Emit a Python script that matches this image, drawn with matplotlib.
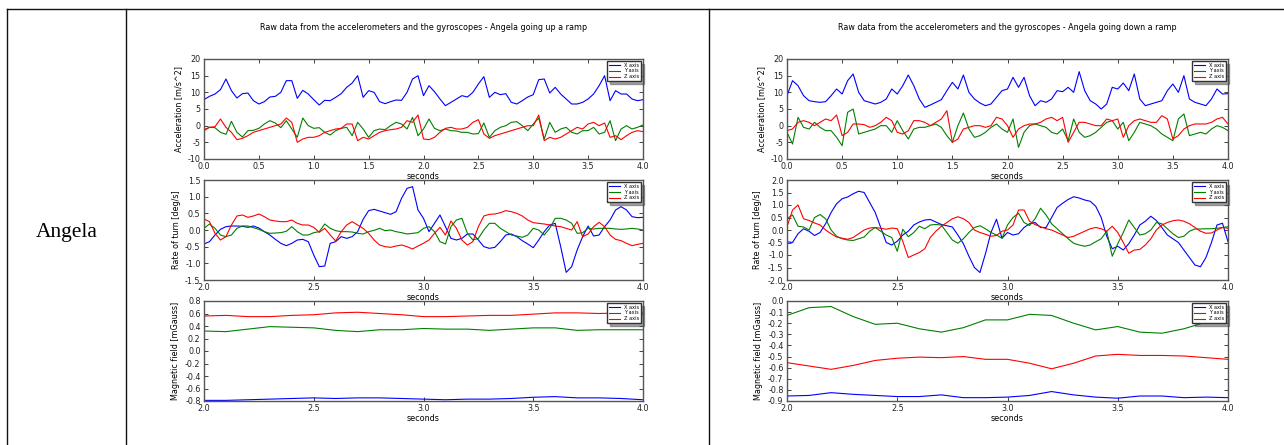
import numpy as np
import matplotlib
matplotlib.use("Agg")
import matplotlib.pyplot as plt
from matplotlib.lines import Line2D
from matplotlib.ticker import FormatStrFormatter

W, H = 1284, 445

person = "Angela"
titles = ["Raw data from the accelerometers and the gyroscopes - Angela going up a ramp",
          "Raw data from the accelerometers and the gyroscopes - Angela going down a ramp"]
legend_labels = ["X axis", "Y axis", "Z axis"]
ylabels = ["Acceleration [m/s^2]", "Rate of turn [deg/s]", "Magnetic field [mGauss]"]

acc_ticks = [-10, -5, 0, 5, 10, 15, 20]
up_gyr_ticks = [-1.5, -1.0, -0.5, 0.0, 0.5, 1.0, 1.5]
down_gyr_ticks = [-2.0, -1.5, -1.0, -0.5, 0.0, 0.5, 1.0, 1.5, 2.0]
up_mag_ticks = [-0.8, -0.6, -0.4, -0.2, 0.0, 0.2, 0.4, 0.6, 0.8]
down_mag_ticks = [-0.9, -0.8, -0.7, -0.6, -0.5, -0.4, -0.3, -0.2, -0.1, 0.0]

# ---- going up: accelerometer, 0..4 s, step 0.05
up_acc_x = [7.8, 8.8, 9.5, 10.8, 14.0, 10.5, 8.3, 9.6, 9.8, 7.5,
            6.5, 7.2, 8.6, 8.8, 10.0, 13.5, 13.5, 8.2, 10.6, 9.5,
            7.8, 6.2, 7.6, 7.5, 8.5, 9.6, 11.5, 12.8, 15.0, 8.5,
            10.5, 10.0, 7.2, 6.6, 7.2, 7.7, 7.6, 10.0, 14.0, 15.0,
            9.0, 12.0, 10.2, 8.0, 6.0, 7.0, 8.0, 9.0, 8.6, 10.0,
            12.5, 14.7, 8.5, 10.0, 9.3, 9.6, 7.0, 6.5, 7.5, 8.6,
            9.3, 13.8, 14.0, 9.8, 11.5, 9.5, 8.0, 6.5, 6.5, 7.0,
            8.0, 9.5, 12.0, 15.0, 7.5, 10.5, 9.5, 9.5, 8.0, 7.5, 7.8]
up_acc_y = [-1.5, -0.5, -0.6, -2.0, -2.6, 1.3, -2.0, -3.4, -1.5, -1.4,
            -0.8, 0.5, 1.5, 0.8, -0.6, 1.5, -1.0, -3.5, 2.3, 0.0,
            -0.8, -0.6, -2.0, -2.8, -1.5, -0.8, -0.5, -3.0, 1.0, -1.0,
            -3.5, -1.5, -1.0, -1.2, 0.0, 1.0, 0.5, -1.0, 2.5, -3.0,
            -1.0, 2.0, -0.8, -1.5, -1.0, -1.5, -1.6, -2.0, -2.0, -2.5,
            -2.4, 0.8, -3.5, -1.5, -0.5, 0.0, 1.0, 1.2, 0.0, -1.5,
            0.5, 2.3, -4.0, 1.0, -2.0, -1.0, -0.5, -2.0, -2.5, -1.5,
            -1.5, -0.5, -2.5, -2.0, 1.5, -4.5, -1.0, 0.0, -1.0, -0.5, 0.2]
up_acc_z = [-1.2, -0.5, -0.3, 2.0, -0.5, -2.0, -4.2, -3.8, -3.0, -2.0,
            -1.5, -1.0, -0.5, 0.0, 0.5, 2.3, 1.0, -5.0, -4.0, -3.5,
            -3.5, -3.0, -2.0, -1.5, -1.0, -0.8, 0.5, 0.5, -4.5, -3.5,
            -4.0, -3.0, -2.0, -1.5, -1.2, -1.0, -0.5, 1.5, 1.0, 3.2,
            -4.0, -4.2, -3.5, -2.0, -0.8, -0.5, -1.0, -1.0, -0.5, 1.0,
            1.8, -2.5, -3.8, -3.0, -2.5, -2.0, -1.5, -1.0, -0.5, 0.0,
            0.0, 3.2, -4.5, -3.5, -4.0, -3.5, -2.5, -1.5, -0.5, -1.0,
            0.5, 1.0, 0.0, 0.8, -3.5, -3.0, -4.2, -3.0, -2.0, -1.5, -1.8]

# ---- going up: gyroscope, 2..4 s, step 0.025
up_gyr_x = [-0.42, -0.35, -0.15, 0.02, 0.10, 0.12, 0.12, 0.11, 0.08, 0.12,
            0.06, -0.05, -0.15, -0.28, -0.40, -0.47, -0.40, -0.30, -0.28, -0.35,
            -0.75, -1.10, -1.08, -0.40, -0.35, -0.20, -0.25, -0.20, -0.05, 0.32,
            0.58, 0.62, 0.57, 0.52, 0.47, 0.55, 0.95, 1.25, 1.30, 0.60,
            0.35, -0.05, 0.20, 0.45, 0.10, -0.25, -0.30, -0.25, -0.12, -0.12,
            -0.30, -0.50, -0.55, -0.52, -0.35, -0.15, -0.12, -0.20, -0.32, -0.42,
            -0.53, -0.30, -0.05, 0.15, 0.20, -0.50, -1.27, -1.10, -0.60, -0.20,
            0.12, -0.18, -0.15, 0.10, 0.30, 0.60, 0.70, 0.60, 0.40, 0.37, 0.38]
up_gyr_y = [0.05, 0.18, 0.05, -0.15, -0.20, -0.15, 0.05, 0.12, 0.12, 0.07,
            0.02, -0.05, -0.10, -0.09, -0.08, -0.04, 0.10, -0.05, -0.15, -0.15,
            -0.08, -0.05, 0.18, 0.05, -0.02, -0.05, -0.05, -0.06, -0.10, -0.12,
            -0.05, -0.01, 0.05, -0.02, 0.00, -0.05, -0.08, -0.12, -0.10, -0.08,
            0.05, 0.10, -0.05, -0.35, -0.42, 0.10, 0.30, 0.35, -0.10, -0.30,
            -0.25, 0.00, 0.20, 0.20, 0.05, -0.05, -0.15, -0.18, -0.22, -0.15,
            0.05, 0.00, -0.15, 0.05, 0.35, 0.35, 0.30, 0.20, -0.10, -0.08,
            0.05, 0.03, 0.05, 0.05, 0.05, 0.03, 0.02, 0.03, 0.05, 0.03, 0.00]
up_gyr_z = [0.33, 0.25, -0.10, -0.30, -0.20, 0.15, 0.42, 0.45, 0.38, 0.42,
            0.48, 0.40, 0.30, 0.27, 0.25, 0.25, 0.30, 0.20, 0.15, 0.15,
            0.08, -0.07, 0.05, -0.15, -0.33, -0.05, 0.15, 0.25, 0.15, 0.05,
            -0.10, -0.30, -0.45, -0.50, -0.52, -0.48, -0.45, -0.50, -0.57, -0.48,
            -0.40, -0.30, -0.10, 0.08, -0.15, 0.27, 0.05, -0.30, -0.45, -0.35,
            0.10, 0.42, 0.47, 0.48, 0.52, 0.58, 0.55, 0.50, 0.42, 0.30,
            0.22, 0.20, 0.18, 0.15, 0.12, 0.10, 0.05, 0.00, 0.25, -0.20,
            -0.12, 0.10, 0.23, 0.10, -0.15, -0.28, -0.32, -0.40, -0.47, -0.43, -0.40]

# ---- going up: magnetometer, 2..4 s, step 0.1
up_mag_x = [-0.79, -0.79, -0.78, -0.77, -0.76, -0.75, -0.76, -0.75, -0.75, -0.76, -0.77,
            -0.78, -0.77, -0.77, -0.76, -0.74, -0.73, -0.75, -0.75, -0.76, -0.78]
up_mag_y = [0.32, 0.31, 0.35, 0.39, 0.38, 0.37, 0.33, 0.31, 0.34, 0.34, 0.36,
            0.35, 0.35, 0.33, 0.35, 0.37, 0.37, 0.33, 0.34, 0.34, 0.34]
up_mag_z = [0.56, 0.57, 0.55, 0.55, 0.57, 0.58, 0.61, 0.62, 0.60, 0.58, 0.55,
            0.55, 0.56, 0.57, 0.57, 0.59, 0.61, 0.61, 0.60, 0.61, 0.61]

# ---- going down: accelerometer
down_acc_x = [9.0, 13.5, 12.0, 9.0, 7.5, 7.2, 7.0, 7.2, 9.0, 11.0,
              9.5, 13.5, 15.5, 10.0, 7.5, 7.0, 6.5, 7.0, 8.0, 11.0,
              9.5, 12.0, 15.2, 12.0, 8.0, 5.5, 6.2, 7.0, 7.8, 10.5,
              13.0, 11.0, 15.2, 10.0, 8.0, 6.8, 6.0, 6.5, 8.5, 10.5,
              11.0, 14.5, 11.5, 14.5, 9.0, 6.0, 7.5, 7.0, 8.0, 10.5,
              10.2, 11.5, 10.0, 16.2, 10.5, 7.5, 6.5, 5.0, 6.5, 11.5,
              11.0, 12.8, 10.5, 15.5, 8.0, 6.0, 6.5, 7.0, 7.5, 10.5,
              12.5, 10.0, 15.0, 8.0, 7.0, 6.5, 6.0, 8.0, 11.0, 9.5, 9.6]
down_acc_y = [-2.0, -5.5, 2.5, -0.5, -1.0, 1.0, -0.5, -1.5, -1.5, -3.5,
              -6.0, 4.0, 5.0, -2.5, -2.0, -1.5, -1.0, 0.0, 0.0, -2.0,
              1.5, -1.5, -4.0, -1.0, -0.5, -0.5, 0.0, 0.5, -0.5, -3.0,
              -5.0, 0.0, 3.8, -1.0, -3.5, -3.0, -2.0, -0.5, 0.5, -1.0,
              -2.0, 2.0, -6.5, -2.0, 0.0, 0.5, 0.0, -0.5, -2.0, -2.5,
              -1.0, -4.5, 2.0, -2.0, -3.5, -3.0, -2.0, -0.5, 1.0, 1.5,
              -1.0, 1.0, -4.5, -2.0, 1.0, 0.5, 0.0, -1.0, -2.5, -3.5,
              -4.5, 2.0, 3.5, -3.0, -2.5, -2.0, -2.5, -1.0, 0.0, -0.5, -1.5]
down_acc_z = [-1.5, -1.0, 1.0, 1.5, 1.0, 0.0, 1.0, 2.0, 1.5, 3.2,
              -3.0, -2.0, 0.5, 0.5, 0.3, -0.5, 0.0, 1.0, 2.5, 1.5,
              -2.0, -2.5, -1.5, 1.5, 1.5, 1.0, 0.0, 1.0, 2.0, 4.5,
              -5.0, -4.0, -1.0, -0.5, 0.0, 0.0, -0.5, 0.0, 2.5, 2.0,
              0.0, -3.5, -1.0, 0.0, 0.5, 0.5, 1.0, 2.0, 2.5, 1.5,
              2.5, -5.0, -2.0, 1.0, 1.0, 0.5, 0.0, 0.0, 2.0, 1.5,
              2.0, -3.5, 0.0, 1.5, 2.0, 1.5, 1.0, 1.0, 3.0, 2.0,
              -4.0, -3.0, -1.0, 0.0, 0.5, 0.5, 0.5, 1.0, 2.0, 2.5, 0.5]

# ---- going down: gyroscope
down_gyr_x = [-0.47, -0.50, -0.15, 0.05, -0.05, -0.22, -0.10, 0.25, 0.70, 1.05,
              1.25, 1.32, 1.45, 1.55, 1.50, 1.10, 0.70, 0.10, -0.50, -0.60,
              -0.45, -0.20, -0.05, 0.20, 0.32, 0.40, 0.42, 0.32, 0.22, 0.17,
              0.12, -0.20, -0.55, -1.05, -1.50, -1.70, -0.95, -0.10, 0.43, -0.33,
              -0.10, -0.20, -0.15, 0.10, 0.25, 0.30, 0.10, 0.10, 0.50, 0.90,
              1.07, 1.22, 1.33, 1.28, 1.20, 1.15, 0.95, 0.50, -0.25, -0.75,
              -0.65, -0.80, -0.55, -0.20, 0.20, 0.35, 0.55, 0.38, 0.10, -0.20,
              -0.35, -0.50, -0.80, -1.10, -1.40, -1.47, -1.10, -0.50, 0.20, 0.27, -0.47]
down_gyr_y = [0.45, 0.60, 0.15, 0.12, 0.00, 0.50, 0.62, 0.45, 0.00, -0.25,
              -0.35, -0.40, -0.42, -0.35, -0.28, -0.05, 0.10, -0.05, -0.20, -0.30,
              -0.85, 0.03, -0.27, -0.10, 0.15, 0.05, 0.20, 0.22, 0.20, -0.10,
              -0.40, -0.53, -0.35, -0.10, 0.10, 0.17, 0.05, -0.10, -0.20, -0.33,
              0.20, 0.50, 0.67, 0.30, 0.18, 0.45, 0.87, 0.60, 0.25, 0.05,
              -0.15, -0.35, -0.53, -0.60, -0.65, -0.60, -0.47, -0.35, -0.05, -1.05,
              -0.55, -0.10, 0.40, 0.10, -0.20, -0.15, 0.00, 0.30, 0.25, 0.05,
              -0.15, -0.30, -0.25, -0.05, 0.04, 0.04, 0.05, 0.05, 0.07, 0.10, 0.13]
down_gyr_z = [0.13, 0.80, 1.00, 0.45, 0.38, 0.28, 0.20, 0.00, -0.15, -0.28,
              -0.33, -0.37, -0.30, -0.15, 0.00, 0.08, 0.10, 0.07, 0.03, 0.08,
              0.05, -0.45, -1.10, -1.00, -0.90, -0.75, -0.30, -0.05, 0.15, 0.30,
              0.45, 0.53, 0.45, 0.30, 0.00, -0.10, -0.17, -0.25, -0.22, -0.05,
              0.00, 0.20, 0.80, 0.80, 0.35, 0.22, 0.13, 0.05, 0.00, -0.10,
              -0.20, -0.30, -0.25, -0.15, -0.05, 0.05, 0.10, 0.05, -0.05, 0.15,
              -0.10, -0.50, -0.93, -0.80, -0.78, -0.60, -0.35, 0.00, 0.20, 0.30,
              0.37, 0.40, 0.35, 0.25, 0.10, -0.05, -0.13, -0.12, 0.00, 0.10, 0.07]

# ---- going down: magnetometer
down_mag_x = [-0.855, -0.85, -0.825, -0.84, -0.85, -0.86, -0.86, -0.845, -0.87, -0.87, -0.865,
              -0.85, -0.815, -0.845, -0.865, -0.875, -0.855, -0.855, -0.87, -0.865, -0.87]
down_mag_y = [-0.13, -0.06, -0.05, -0.14, -0.21, -0.20, -0.25, -0.28, -0.24, -0.17, -0.17,
              -0.12, -0.13, -0.20, -0.26, -0.23, -0.28, -0.29, -0.25, -0.19, -0.14]
down_mag_z = [-0.555, -0.585, -0.615, -0.58, -0.535, -0.515, -0.505, -0.51, -0.50, -0.525, -0.525,
              -0.56, -0.61, -0.56, -0.495, -0.48, -0.49, -0.49, -0.495, -0.51, -0.525]

colors = ["b", "g", "r"]
fs = 5.8

panels = [
    dict(left=204, right=643, title=titles[0],
         data=[(0, 4, [up_acc_x, up_acc_y, up_acc_z], (-10, 20), acc_ticks, "%d"),
               (2, 4, [up_gyr_x, up_gyr_y, up_gyr_z], (-1.5, 1.5), up_gyr_ticks, "%.1f"),
               (2, 4, [up_mag_x, up_mag_y, up_mag_z], (-0.8, 0.8), up_mag_ticks, "%.1f")],
         lab_off=[-25, -27, -28]),
    dict(left=787, right=1228, title=titles[1],
         data=[(0, 4, [down_acc_x, down_acc_y, down_acc_z], (-10, 20), acc_ticks, "%d"),
               (2, 4, [down_gyr_x, down_gyr_y, down_gyr_z], (-2, 2), down_gyr_ticks, "%.1f"),
               (2, 4, [down_mag_x, down_mag_y, down_mag_z], (-0.9, 0.0), down_mag_ticks, "%.1f")],
         lab_off=[-25, -29, -28]),
]
rows = [(59, 159), (180, 280), (301, 401)]

fig = plt.figure(figsize=(W / 100, H / 100), dpi=100)
fig.patch.set_facecolor("white")

for p in panels:
    wpx = p["right"] - p["left"]
    for (top, bot), (t0, t1, series, ylim, yt, yfmt), off, ylab in zip(rows, p["data"], p["lab_off"], ylabels):
        ax = fig.add_axes([p["left"] / W, 1 - bot / H, wpx / W, (bot - top) / H])
        for vals, c, lab in zip(series, colors, legend_labels):
            t = np.linspace(t0, t1, len(vals))
            ax.plot(t, vals, color=c, lw=0.8, label=lab)
        ax.set_xlim(t0, t1)
        ax.set_ylim(*ylim)
        ax.set_xticks(np.arange(t0, t1 + 0.01, 0.5))
        ax.set_yticks(yt)
        ax.xaxis.set_major_formatter(FormatStrFormatter("%.1f"))
        ax.yaxis.set_major_formatter(FormatStrFormatter(yfmt))
        ax.tick_params(direction="in", top=True, right=True, length=3, width=0.6,
                       labelsize=fs, pad=2.5, colors="#222222")
        for s in ax.spines.values():
            s.set_color("#555555")
            s.set_linewidth(1.0)
        ax.set_xlabel("seconds", fontsize=fs, labelpad=0.3)
        ax.set_ylabel(ylab, fontsize=fs)
        ax.yaxis.set_label_coords((off + 3.8) / wpx, 0.5)
        ax.legend(loc="upper right", fontsize=3.6, frameon=True, shadow=True, fancybox=False,
                  framealpha=1, edgecolor="#333333", borderpad=0.4, labelspacing=0.15,
                  handlelength=2.2, handletextpad=0.8, borderaxespad=0.35)
    fig.text((p["left"] + p["right"]) / 2 / W, 1 - 28 / H, p["title"], fontsize=fs,
             ha="center", va="center")

fig.text(67 / W, 1 - 232 / H, person, fontsize=15.5, family="Liberation Serif",
         ha="center", va="center")

for (x0, y0, x1, y1) in [(7, 9, 1284, 9), (7, 9, 7, 445), (126, 9, 126, 445), (709, 9, 709, 445)]:
    fig.add_artist(Line2D([x0 / W, x1 / W], [1 - y0 / H, 1 - y1 / H],
                          transform=fig.transFigure, color="#111111", lw=1.0))

fig.savefig("out.png", dpi=100)
